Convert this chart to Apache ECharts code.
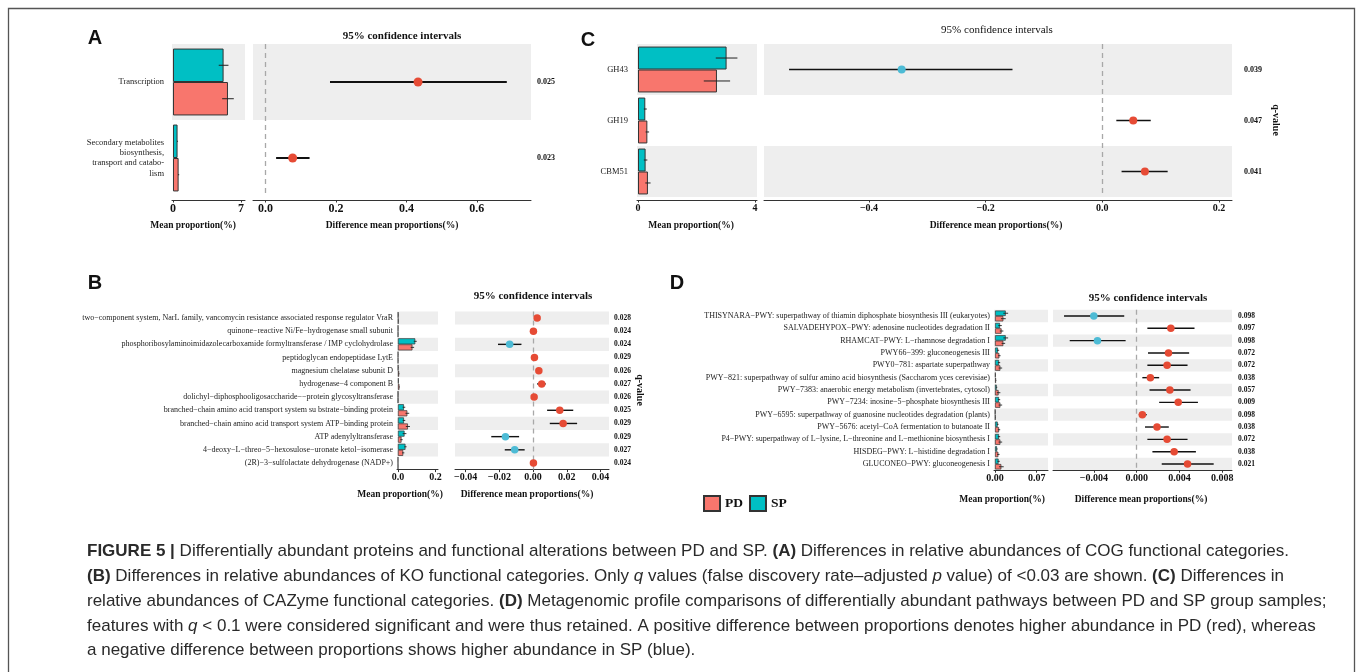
<!DOCTYPE html>
<html><head><meta charset="utf-8">
<script src="https://cdn.jsdelivr.net/npm/echarts@6/dist/echarts.min.js"></script>
<style>html,body{margin:0;padding:0;background:#fff}#c{width:1357px;height:672px}</style>
</head><body><div id="c"></div>
<script>
// ---------------- Panel A (COG) ----------------
const aCategories = ['Transcription', 'Secondary metabolites\nbiosynthesis,\ntransport and catabo-\nlism'];
const aSpMean = [5.2, 0.47];
const aSpSd = [0.5, 0.05];
const aPdMean = [5.65, 0.58];
const aPdSd = [0.6, 0.06];
const aDiff = [0.433, 0.077];
const aCiLow = [0.183, 0.030];
const aCiHigh = [0.685, 0.125];
const aQ = ['0.025', '0.023'];
const aBarTicks = ['0', '7'];
const aCiTicks = ['0.0', '0.2', '0.4', '0.6'];

// ---------------- Panel B (KO) ----------------
const bCategories = [
  'two−component system, NarL family, vancomycin resistance associated response regulator VraR',
  'quinone−reactive Ni/Fe−hydrogenase small subunit',
  'phosphoribosylaminoimidazolecarboxamide formyltransferase / IMP cyclohydrolase',
  'peptidoglycan endopeptidase LytE',
  'magnesium chelatase subunit D',
  'hydrogenase−4 component B',
  'dolichyl−diphosphooligosaccharide−−protein glycosyltransferase',
  'branched−chain amino acid transport system su bstrate−binding protein',
  'branched−chain amino acid transport system ATP−binding protein',
  'ATP adenylyltransferase',
  '4−deoxy−L−threo−5−hexosulose−uronate ketol−isomerase',
  '(2R)−3−sulfolactate dehydrogenase (NADP+)'
];
const bSpMean = [0.002, 0.001, 0.092, 0.001, 0.002, 0.004, 0.001, 0.032, 0.032, 0.035, 0.040, 0.0005];
const bSpSd = [0.001, 0.0005, 0.008, 0.0005, 0.001, 0.001, 0.0005, 0.007, 0.007, 0.010, 0.006, 0.0003];
const bPdMean = [0.003, 0.001, 0.077, 0.001, 0.006, 0.008, 0.001, 0.050, 0.053, 0.019, 0.028, 0.0008];
const bPdSd = [0.001, 0.0005, 0.009, 0.0005, 0.002, 0.002, 0.0005, 0.010, 0.011, 0.006, 0.006, 0.0003];
const bDiff = [0.0024, 0.0002, -0.0139, 0.0008, 0.0034, 0.0051, 0.0006, 0.0158, 0.0178, -0.0164, -0.0109, 0.0002];
const bCiLow = [0.0020, 0.0000, -0.0208, 0.0005, 0.0028, 0.0024, 0.0003, 0.0083, 0.0099, -0.0248, -0.0168, 0.0000];
const bCiHigh = [0.0028, 0.0004, -0.0069, 0.0011, 0.0040, 0.0075, 0.0009, 0.0238, 0.0261, -0.0083, -0.0050, 0.0004];
const bQ = ['0.028', '0.024', '0.024', '0.029', '0.026', '0.027', '0.026', '0.025', '0.029', '0.029', '0.027', '0.024'];
const bBarTicks = ['0.0', '0.2'];
const bCiTicks = ['−0.04', '−0.02', '0.00', '0.02', '0.04'];

// ---------------- Panel C (CAZyme) ----------------
const cCategories = ['GH43', 'GH19', 'CBM51'];
const cSpMean = [3.03, 0.25, 0.26];
const cSpSd = [0.37, 0.05, 0.06];
const cPdMean = [2.70, 0.32, 0.34];
const cPdSd = [0.45, 0.06, 0.09];
const cDiff = [-0.344, 0.053, 0.073];
const cCiLow = [-0.537, 0.024, 0.033];
const cCiHigh = [-0.154, 0.083, 0.112];
const cQ = ['0.039', '0.047', '0.041'];
const cBarTicks = ['0', '4'];
const cCiTicks = ['−0.4', '−0.2', '0.0', '0.2'];

// ---------------- Panel D (pathways) ----------------
const dCategories = [
  'THISYNARA−PWY: superpathway of thiamin diphosphate biosynthesis III (eukaryotes)',
  'SALVADEHYPOX−PWY: adenosine nucleotides degradation II',
  'RHAMCAT−PWY: L−rhamnose degradation I',
  'PWY66−399: gluconeogenesis III',
  'PWY0−781: aspartate superpathway',
  'PWY−821: superpathway of sulfur amino acid biosynthesis (Saccharom yces cerevisiae)',
  'PWY−7383: anaerobic energy metabolism (invertebrates, cytosol)',
  'PWY−7234: inosine−5−phosphate biosynthesis III',
  'PWY−6595: superpathway of guanosine nucleotides degradation (plants)',
  'PWY−5676: acetyl−CoA fermentation to butanoate II',
  'P4−PWY: superpathway of L−lysine, L−threonine and L−methionine biosynthesis I',
  'HISDEG−PWY: L−histidine degradation I',
  'GLUCONEO−PWY: gluconeogenesis I'
];
const dSpMean = [0.018, 0.0084, 0.018, 0.005, 0.0067, 0.001, 0.0028, 0.0067, 0.0005, 0.0045, 0.0067, 0.0034, 0.006];
const dSpSd = [0.004, 0.003, 0.004, 0.002, 0.002, 0.0005, 0.001, 0.002, 0.0003, 0.0015, 0.002, 0.001, 0.002];
const dPdMean = [0.014, 0.011, 0.014, 0.0073, 0.009, 0.0017, 0.006, 0.009, 0.0008, 0.0067, 0.009, 0.0056, 0.0106];
const dPdSd = [0.004, 0.003, 0.003, 0.002, 0.003, 0.0005, 0.003, 0.003, 0.0003, 0.002, 0.003, 0.002, 0.004];
const dDiff = [-0.0040, 0.00319, -0.00366, 0.00297, 0.00284, 0.00128, 0.0031, 0.00388, 0.00053, 0.0019, 0.00284, 0.0035, 0.00475];
const dCiLow = [-0.00678, 0.0010, -0.00625, 0.00106, 0.0010, 0.00053, 0.0012, 0.0021, 0.0002, 0.00078, 0.0010, 0.00147, 0.00234];
const dCiHigh = [-0.00116, 0.0054, -0.00103, 0.0049, 0.00475, 0.0021, 0.00503, 0.00572, 0.00094, 0.0030, 0.00475, 0.00553, 0.00719];
const dQ = ['0.098', '0.097', '0.098', '0.072', '0.072', '0.038', '0.057', '0.009', '0.098', '0.038', '0.072', '0.038', '0.021'];
const dBarTicks = ['0.00', '0.07'];
const dCiTicks = ['−0.004', '0.000', '0.004', '0.008'];

const groupNames = ['PD', 'SP'];

const captionLines = [
  '{b|FIGURE 5 |}{n| Differentially abundant proteins and functional alterations between PD and SP. }{b|(A)}{n| Differences in relative abundances of COG functional categories.}',
  '{b|(B)}{n| Differences in relative abundances of KO functional categories. Only }{i|q}{n| values (false discovery rate–adjusted }{i|p}{n| value) of <0.03 are shown. }{b|(C)}{n| Differences in}',
  '{n|relative abundances of CAZyme functional categories. }{b|(D)}{n| Metagenomic profile comparisons of differentially abundant pathways between PD and SP group samples;}',
  '{n|features with }{i|q}{n| < 0.1 were considered significant and were thus retained. A positive difference between proportions denotes higher abundance in PD (red), whereas}',
  '{n|a negative difference between proportions shows higher abundance in SP (blue).}'
];

// ---------------- styling / layout ----------------
const PD_COLOR = '#F8766D', SP_COLOR = '#00BFC4', RED_DOT = '#E64B35', BLUE_DOT = '#4DBBD5';
const SERIF = '"Liberation Serif", "Times New Roman", serif';
const SANS = '"Liberation Sans", Arial, sans-serif';

function tickVals(labels) { return labels.map(s => Number(s.replace('−', '-'))); }
function tickFmt(labels) {
  const vals = tickVals(labels);
  return v => { const i = vals.findIndex(t => Math.abs(t - v) < 1e-9); return i >= 0 ? labels[i] : ''; };
}

const panels = [
  { cats: aCategories, sp: aSpMean, spSd: aSpSd, pd: aPdMean, pdSd: aPdSd, diff: aDiff, lo: aCiLow, hi: aCiHigh, q: aQ,
    barTicks: aBarTicks, ciTicks: aCiTicks,
    top: 44, height: 152, axOffset: 4,
    bar: { left: 172, width: 73, min: -0.1, max: 7.4 }, ci: { left: 253, width: 278, min: -0.0356, max: 0.7537 },
    labelSize: 8.5, labelMargin: 8, tickSize: 12, qSize: 8, qMargin: 6, dot: 9, barWidth: 44, ciWidth: 1.8, errWidth: 1, bw: 1 },
  { cats: cCategories, sp: cSpMean, spSd: cSpSd, pd: cPdMean, pdSd: cPdSd, diff: cDiff, lo: cCiLow, hi: cCiHigh, q: cQ,
    barTicks: cBarTicks, ciTicks: cCiTicks,
    top: 44, height: 153, axOffset: 3,
    bar: { left: 637, width: 120, min: -0.034, max: 4.07 }, ci: { left: 764, width: 468, min: -0.58, max: 0.2223 },
    labelSize: 8.5, labelMargin: 9, tickSize: 10, qSize: 8, qMargin: 12, dot: 8, barWidth: 45, ciWidth: 1.6, errWidth: 1, bw: 1 },
  { cats: bCategories, sp: bSpMean, spSd: bSpSd, pd: bPdMean, pdSd: bPdSd, diff: bDiff, lo: bCiLow, hi: bCiHigh, q: bQ,
    barTicks: bBarTicks, ciTicks: bCiTicks,
    top: 311.4, height: 158.2, axOffset: 0,
    bar: { left: 397, width: 41, min: -0.005, max: 0.213 }, ci: { left: 455, width: 154, min: -0.0463, max: 0.045 },
    labelSize: 8, labelMargin: 4, tickSize: 10, qSize: 7.5, qMargin: 5, dot: 7.5, barWidth: 46, ciWidth: 1.4, errWidth: 0.9, bw: 0.7 },
  { cats: dCategories, sp: dSpMean, spSd: dSpSd, pd: dPdMean, pdSd: dPdSd, diff: dDiff, lo: dCiLow, hi: dCiHigh, q: dQ,
    barTicks: dBarTicks, ciTicks: dCiTicks,
    top: 309.8, height: 160.4, axOffset: 0,
    bar: { left: 994, width: 54, min: -0.0017, max: 0.089 }, ci: { left: 1053, width: 179, min: -0.00781, max: 0.0089 },
    labelSize: 8, labelMargin: 4, tickSize: 10, qSize: 7.5, qMargin: 6, dot: 7.5, barWidth: 44, ciWidth: 1.4, errWidth: 0.9, bw: 0.7 }
];

const grids = [], xAxes = [], yAxes = [], series = [];
const band = { show: true, interval: 0, areaStyle: { color: ['#EEEEEE', 'rgba(255,255,255,0)'] } };

panels.forEach(p => {
  const gb = grids.length;
  grids.push({ left: p.bar.left, top: p.top, width: p.bar.width, height: p.height });
  grids.push({ left: p.ci.left, top: p.top, width: p.ci.width, height: p.height });
  const mkX = (gi, lim, ticks) => ({
    type: 'value', gridIndex: gi, min: lim.min, max: lim.max, offset: p.axOffset,
    splitLine: { show: false },
    axisLine: { show: true, onZero: false, lineStyle: { color: '#333', width: 1 } },
    axisTick: { show: true, length: 2.5, lineStyle: { color: '#333' }, customValues: tickVals(ticks) },
    axisLabel: { customValues: tickVals(ticks), formatter: tickFmt(ticks), fontFamily: SERIF, fontWeight: 'bold',
                 fontSize: p.tickSize, color: '#111', margin: 3 }
  });
  xAxes.push(mkX(gb, p.bar, p.barTicks));
  xAxes.push(mkX(gb + 1, p.ci, p.ciTicks));
  yAxes.push({ type: 'category', gridIndex: gb, data: p.cats, inverse: true,
    axisLine: { show: false }, axisTick: { show: false }, splitArea: band,
    axisLabel: { interval: 0, fontFamily: SERIF, fontSize: p.labelSize, color: '#222', margin: p.labelMargin,
                 lineHeight: p.labelSize * 1.22 } });
  yAxes.push({ type: 'category', gridIndex: gb + 1, data: p.cats, inverse: true, position: 'right',
    axisLine: { show: false }, axisTick: { show: false }, splitArea: band,
    axisLabel: { interval: 0, formatter: (v, i) => p.q[i], fontFamily: SERIF, fontWeight: 'bold', fontSize: p.qSize,
                 color: '#111', margin: p.qMargin } });

  const barCommon = { type: 'bar', xAxisIndex: gb, yAxisIndex: gb, barWidth: p.barWidth + '%', barGap: '0%', silent: true };
  series.push({ ...barCommon, name: 'SP', data: p.sp, itemStyle: { color: SP_COLOR, borderColor: '#333', borderWidth: p.bw } });
  series.push({ ...barCommon, name: 'PD', data: p.pd, itemStyle: { color: PD_COLOR, borderColor: '#333', borderWidth: p.bw } });

  const err = [];
  p.cats.forEach((c, i) => {
    err.push([i, p.sp[i] - p.spSd[i], p.sp[i] + p.spSd[i], 0]);
    err.push([i, p.pd[i] - p.pdSd[i], p.pd[i] + p.pdSd[i], 1]);
  });
  series.push({ type: 'custom', xAxisIndex: gb, yAxisIndex: gb, data: err, encode: { x: [1, 2], y: 0 }, silent: true, z: 5,
    renderItem: (params, api) => {
      const i = api.value(0), which = api.value(3);
      const a = api.coord([api.value(1), i]), b = api.coord([api.value(2), i]);
      const w = api.size([0, 1])[1] * p.barWidth / 100;
      const off = which === 0 ? -w / 2 : w / 2;
      return { type: 'line', shape: { x1: a[0], y1: a[1] + off, x2: b[0], y2: b[1] + off },
               style: { stroke: '#222', lineWidth: p.errWidth } };
    } });

  series.push({ type: 'custom', xAxisIndex: gb + 1, yAxisIndex: gb + 1, silent: true, z: 4,
    data: p.cats.map((c, i) => [i, p.lo[i], p.hi[i]]), encode: { x: [1, 2], y: 0 },
    renderItem: (params, api) => {
      const a = api.coord([api.value(1), api.value(0)]), b = api.coord([api.value(2), api.value(0)]);
      return { type: 'line', shape: { x1: a[0], y1: a[1], x2: b[0], y2: b[1] }, style: { stroke: '#111', lineWidth: p.ciWidth } };
    },
    markLine: { silent: true, symbol: ['none', 'none'], label: { show: false }, animation: false,
      lineStyle: { type: [5, 4], color: '#A8A8A8', width: 1.3 }, data: [{ xAxis: 0 }] } });
  series.push({ type: 'scatter', xAxisIndex: gb + 1, yAxisIndex: gb + 1, silent: true, z: 10,
    data: p.diff.map((d, i) => [d, i]), symbolSize: p.dot,
    itemStyle: { opacity: 1, color: prm => (prm.value[0] >= 0 ? RED_DOT : BLUE_DOT) } });
});

function txt(x, y, text, size, opts) {
  opts = opts || {};
  return { type: 'text', x: x, y: y, rotation: opts.rotation || 0, silent: true,
    style: { text: text, fill: opts.fill || '#111', fontSize: size, fontFamily: opts.family || SERIF,
             fontWeight: opts.weight || 'bold', align: opts.align || 'center', verticalAlign: 'middle',
             textAlign: opts.align || 'center', textVerticalAlign: 'middle' } };
}

const graphics = [
  { type: 'rect', silent: true, z: -10, shape: { x: 8.5, y: 8.5, width: 1346, height: 700 },
    style: { fill: 'rgba(0,0,0,0)', stroke: '#555', lineWidth: 1.3 } },
  txt(95, 38, 'A', 20, { family: SANS }),
  txt(588, 40, 'C', 20, { family: SANS }),
  txt(95, 283, 'B', 20, { family: SANS }),
  txt(677, 283, 'D', 20, { family: SANS }),
  txt(402, 36, '95% confidence intervals', 11),
  txt(997, 30, '95% confidence intervals', 11, { weight: 'normal' }),
  txt(533, 296, '95% confidence intervals', 11),
  txt(1148, 298, '95% confidence intervals', 11),
  txt(193, 226, 'Mean proportion(%)', 9.5),
  txt(392, 226, 'Difference mean proportions(%)', 9.5),
  txt(691, 226, 'Mean proportion(%)', 9.5),
  txt(996, 226, 'Difference mean proportions(%)', 9.5),
  txt(400, 495, 'Mean proportion(%)', 9.5),
  txt(527, 495, 'Difference mean proportions(%)', 9.5),
  txt(1002, 500, 'Mean proportion(%)', 9.5),
  txt(1141, 500, 'Difference mean proportions(%)', 9.5),
  txt(1276, 120, 'q-value', 10, { rotation: -Math.PI / 2 }),
  txt(640, 390, 'q-value', 10, { rotation: -Math.PI / 2 })
];

const CAP = 17;
const capRich = {
  n: { fontSize: CAP, fontFamily: SANS, fontWeight: 'normal', fontStyle: 'normal', fill: '#2a2a2a' },
  b: { fontSize: CAP, fontFamily: SANS, fontWeight: 'bold', fontStyle: 'normal', fill: '#2a2a2a' },
  i: { fontSize: CAP, fontFamily: SANS, fontWeight: 'normal', fontStyle: 'italic', fill: '#2a2a2a' }
};
const capY = [551, 576, 601, 626, 650];
captionLines.forEach((line, k) => {
  graphics.push({ type: 'text', x: 87, y: capY[k], silent: true,
    style: { text: line, rich: capRich, fontSize: CAP, fontFamily: SANS, fill: '#2a2a2a',
             align: 'left', verticalAlign: 'middle', textAlign: 'left', textVerticalAlign: 'middle' } });
});

const chart = echarts.init(document.getElementById('c'), null, { renderer: 'canvas' });
chart.setOption({
  animation: false,
  backgroundColor: '#fff',
  grid: grids, xAxis: xAxes, yAxis: yAxes, series: series,
  legend: { data: groupNames, left: 703, top: 495, padding: 0, itemWidth: 16, itemHeight: 15, itemGap: 6, icon: 'rect',
            selectedMode: false, textStyle: { fontFamily: SERIF, fontWeight: 'bold', fontSize: 13.5, color: '#111' } },
  graphic: { elements: graphics }
});
</script></body></html>
